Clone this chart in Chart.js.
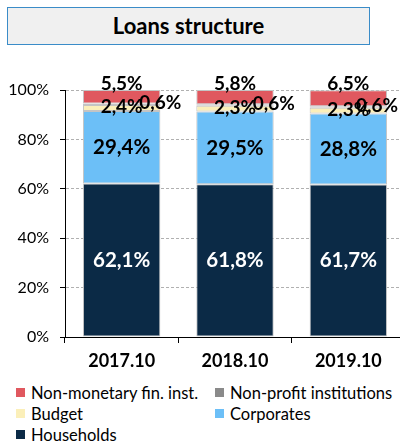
<!DOCTYPE html>
<html>
<head>
<meta charset="utf-8">
<script src="https://cdn.jsdelivr.net/npm/chart.js@4"></script>
<style>
  html, body { margin: 0; padding: 0; background: #fff; overflow: hidden; width: 400px; height: 445px; }
  #wrap { position: relative; width: 400px; height: 445px; overflow: hidden; }
  #title {
    position: absolute; left: 7px; top: 7px; width: 361px; height: 36px;
    background: #f0f0f0; border: 1px solid #3a8cc8;
    font-family: Lato, "Open Sans", sans-serif; font-weight: bold; font-size: 22px;
    color: #000; text-align: center; line-height: 36px;
  }
  #cv { position: absolute; left: 0; top: 0; }
  #legend {
    position: absolute; left: 16px; top: 382px; width: 384px;
    display: grid; grid-template-columns: 199px 185px; row-gap: 0;
    font-family: Lato, "Open Sans", sans-serif; font-size: 16.5px; color: #000;
  }
  .li { display: flex; align-items: center; height: 21px; white-space: nowrap; }
  .sw { width: 9px; height: 9px; margin-right: 6px; flex: none; }
</style>
</head>
<body>
<div id="wrap">
  <canvas id="cv" width="405" height="380" style="width:405px;height:380px"></canvas>
  <div id="title">Loans structure</div>
  <div id="legend"></div>
</div>
<script>
const categories = ["2017.10", "2018.10", "2019.10"];
const households = [62.1, 61.8, 61.7];
const corporates = [29.4, 29.5, 28.8];
const budget = [2.4, 2.3, 2.3];
const nonProfit = [0.6, 0.6, 0.6];
const nonMonetary = [5.5, 5.8, 6.5];
const yTicks = [0, 20, 40, 60, 80, 100];
const legendOrder = ["Non-monetary fin. inst.", "Non-profit institutions", "Budget", "Corporates", "Households"];

const FONT = "Lato, 'Open Sans', sans-serif";
const fmt = v => v.toFixed(1).replace('.', ',') + '%';

const datasets = [
  { label: "Households", data: households, backgroundColor: "#0b2a46", lbl: "center", color: "#fff", size: 20.5 },
  { label: "Corporates", data: corporates, backgroundColor: "#6cbff7", lbl: "center", color: "#000", size: 20.5 },
  { label: "Budget", data: budget, backgroundColor: "#fbefb9", lbl: "budget", color: "#000", size: 19 },
  { label: "Non-profit institutions", data: nonProfit, backgroundColor: "#8a8a8a", lbl: "right", color: "#000", size: 19 },
  { label: "Non-monetary fin. inst.", data: nonMonetary, backgroundColor: "#e0585f", lbl: "top", color: "#000", size: 19 }
].map(d => Object.assign(d, { borderColor: "#c4c4c4", borderWidth: 1, borderSkipped: false, barPercentage: 1, categoryPercentage: 0.683 }));

const labelPlugin = {
  id: 'segLabels',
  afterDatasetsDraw(chart) {
    const ctx = chart.ctx;
    ctx.save();
    ctx.textBaseline = 'middle';
    ctx.textAlign = 'center';
    chart.data.datasets.forEach((ds, i) => {
      const meta = chart.getDatasetMeta(i);
      meta.data.forEach((bar, j) => {
        const txt = fmt(ds.data[j]);
        ctx.font = `bold ${ds.size}px ${FONT}`;
        ctx.fillStyle = ds.color;
        const mid = (bar.y + bar.base) / 2;
        let x = bar.x, y = mid;
        if (ds.lbl === 'top') { y = bar.y - 6; }
        else if (ds.lbl === 'budget') { y = mid - 1; }
        else if (ds.lbl === 'right') {
          const w = ctx.measureText(txt).width;
          x = bar.x + bar.width / 2;
          if (x + w / 2 > 398) x = 398 - w / 2;
          y = mid - 1;
        }
        ctx.fillText(txt, x, y);
      });
    });
    ctx.restore();
  }
};

const chart = new Chart(document.getElementById('cv'), {
  type: 'bar',
  data: { labels: categories, datasets },
  options: {
    responsive: false,
    animation: false,
    layout: { padding: { top: 90, left: 0, right: 0, bottom: 0 } },
    plugins: { legend: { display: false }, title: { display: false }, tooltip: { enabled: false } },
    scales: {
      x: {
        stacked: true,
        grid: { display: true, drawOnChartArea: false, drawTicks: true, tickLength: 6, tickColor: "#000", offset: true },
        border: { display: true, color: "#000", width: 1 },
        ticks: { color: "#000", font: { family: FONT, size: 18, weight: 'bold' }, padding: 7 },
        afterFit(s) { s.height = 43; }
      },
      y: {
        stacked: true,
        min: 0, max: 100,
        afterBuildTicks(s) { s.ticks = yTicks.map(v => ({ value: v })); },
        grid: { color: "#b0b0b0", drawTicks: true, tickLength: 5, tickColor: "#000", lineWidth: 1 },
        border: { display: true, color: "#000", width: 1, dash: [3, 2] },
        ticks: { color: "#000", font: { family: FONT, size: 16 }, padding: 11, callback: v => v + '%' },
        afterFit(s) { s.width = 65; }
      }
    }
  },
  plugins: [labelPlugin]
});

const lg = document.getElementById('legend');
legendOrder.forEach(name => {
  const ds = datasets.find(d => d.label === name);
  const it = document.createElement('div');
  it.className = 'li';
  const sw = document.createElement('span');
  sw.className = 'sw';
  sw.style.background = ds.backgroundColor;
  const t = document.createElement('span');
  t.textContent = name;
  it.appendChild(sw); it.appendChild(t);
  lg.appendChild(it);
});
</script>
</body>
</html>
